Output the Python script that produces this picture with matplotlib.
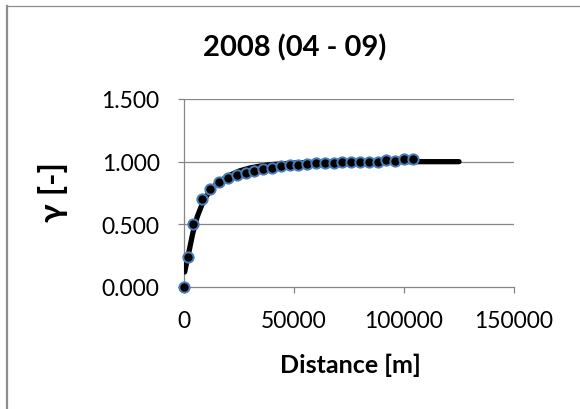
import matplotlib
matplotlib.use("Agg")
import matplotlib.pyplot as plt

plt.rcParams['font.family'] = ['Lato', 'DejaVu Sans']

# Experimental semivariogram points
dist = [0, 2000, 4000, 8000, 12000, 16000, 20000, 24000, 28000, 32000, 36000,
        40000, 44000, 48000, 52000, 56000, 60000, 64000, 68000, 72000, 76000,
        80000, 84000, 88000, 92000, 96000, 100000, 104000]
gamma = [0.000, 0.239, 0.503, 0.705, 0.785, 0.835, 0.870, 0.894, 0.912, 0.928,
         0.941, 0.952, 0.963, 0.971, 0.976, 0.981, 0.987, 0.989, 0.992, 0.995,
         1.000, 1.000, 0.997, 1.000, 1.010, 1.008, 1.019, 1.019]

# Fitted model curve
model_x = [300, 2000, 4000, 6000, 8000, 10000, 12000, 14000, 16000, 20000,
           25000, 30000, 35000, 40000, 50000, 60000, 70000, 80000, 100000, 125000]
model_y = [0.12, 0.26, 0.43, 0.56, 0.65, 0.72, 0.77, 0.81, 0.84, 0.885,
           0.925, 0.95, 0.966, 0.977, 0.989, 0.995, 0.998, 0.999, 1.0, 1.0]

xticks = [0, 50000, 100000, 150000]
yticks = [0.0, 0.5, 1.0, 1.5]
title = "2008 (04 - 09)"
xlabel = "Distance [m]"
ylabel = "γ [-]"

W, H = 580, 410
fig = plt.figure(figsize=(5.8, 4.1), dpi=100)
fig.patch.set_facecolor('white')

# outer chart frame
frame_col = '#8c8c8c'
fig.add_artist(plt.Line2D([7.0 / W, 7.0 / W], [0, 1 - 7.0 / H], transform=fig.transFigure,
                          color=frame_col, lw=1.6))
fig.add_artist(plt.Line2D([7.0 / W, 1], [1 - 7.0 / H, 1 - 7.0 / H], transform=fig.transFigure,
                          color=frame_col, lw=0.9))

x0, x1 = 184, 514
yt, yb = 100, 288
ax = fig.add_axes([x0 / W, (H - yb) / H, (x1 - x0) / W, (yb - yt) / H])
ax.set_xlim(0, 150000)
ax.set_ylim(0, 1.5)

grid_col = '#868686'
for v in yticks[1:]:
    ax.axhline(v, color=grid_col, lw=0.9, zorder=1)

ax.plot(model_x, model_y, color='black', lw=3.8, solid_capstyle='round', zorder=3)
ax.plot(dist, gamma, linestyle='none', marker='o', markersize=7.4,
        markerfacecolor='black', markeredgecolor='#4a7ebb', markeredgewidth=1.4,
        zorder=4, clip_on=False)

for s in ['top', 'right']:
    ax.spines[s].set_visible(False)
for s in ['left', 'bottom']:
    ax.spines[s].set_color(grid_col)
    ax.spines[s].set_linewidth(0.9)

ax.set_xticks(xticks)
ax.set_xticklabels([str(v) for v in xticks])
ax.set_yticks(yticks)
ax.set_yticklabels(["%.3f" % v for v in yticks])
ax.tick_params(axis='both', direction='out', length=4.5, width=0.9, color=grid_col,
               labelsize=16.5, labelcolor='black')
ax.tick_params(axis='x', pad=12)
ax.tick_params(axis='y', pad=13)

fig.text(295 / W, 1 - 47.5 / H, title, ha='center', va='center', fontsize=21,
         fontweight='bold')
fig.text(350 / W, 1 - 365 / H, xlabel, ha='center', va='center', fontsize=18,
         fontweight='bold')
fig.text(53 / W, 1 - 192 / H, ylabel, ha='center', va='center', fontsize=24,
         fontweight='bold', rotation=90)

fig.savefig('out.png', dpi=100)
